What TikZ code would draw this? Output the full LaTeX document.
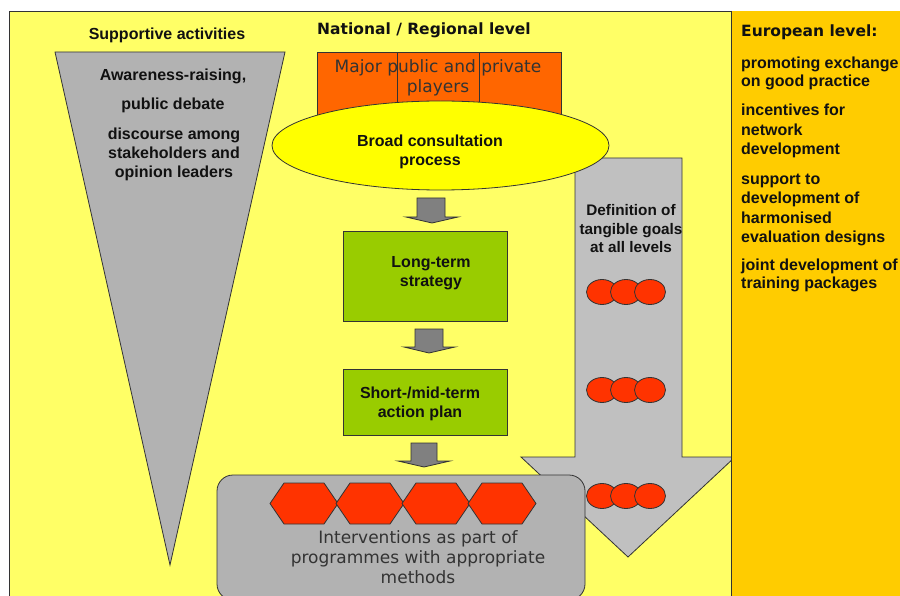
\documentclass[tikz,border=0pt]{standalone}
\usepackage{fontspec}
\setmainfont{Liberation Sans}
\newfontfamily\dvfont{DejaVu Sans}
\usetikzlibrary{shapes.geometric}
\definecolor{bgyellow}{HTML}{FFFF66}
\definecolor{eupanel}{HTML}{FFCC00}
\definecolor{trigray}{HTML}{B2B2B2}
\definecolor{bigarrow}{HTML}{C0C0C0}
\definecolor{smallarrow}{HTML}{808080}
\definecolor{playerorange}{HTML}{FF6600}
\definecolor{consult}{HTML}{FFFF00}
\definecolor{stratgreen}{HTML}{99CC00}
\definecolor{goalred}{HTML}{FF3300}
\definecolor{edge}{HTML}{333333}
\definecolor{ink}{HTML}{111111}
\definecolor{ink2}{HTML}{333333}
\tikzset{
  outl/.style={draw=edge, line width=0.8pt},
  bt/.style={font=\bfseries\fontsize{16}{19}\selectfont, text=ink, inner sep=0pt, align=center},
  vt/.style={font=\dvfont\fontsize{17}{20}\selectfont, text=ink2, inner sep=0pt, align=center},
  headtxt/.style={font=\dvfont\bfseries\fontsize{15.5}{19}\selectfont, text=ink, inner sep=0pt},
  greenbox/.style={outl, fill=stratgreen, rectangle, inner sep=0pt, minimum width=164pt},
  playerbox/.style={outl, fill=playerorange, rectangle, inner sep=0pt, anchor=north west, minimum height=66pt},
  goal/.style={outl, fill=goalred, ellipse, inner sep=0pt, minimum width=31pt, minimum height=25pt},
  blockarrow/.style={outl, fill=smallarrow},
}
\begin{document}
\begin{tikzpicture}[x=1pt,y=-1pt]
\useasboundingbox (0,0) rectangle (900,596);
\clip (0,0) rectangle (900,596);
% backgrounds
\fill[white] (0,0) rectangle (900,596);
\fill[bgyellow] (9,11) rectangle (731,600);
\draw[draw=edge, line width=0.8pt] (836,11) -- (9,11) -- (9,600);
% supportive triangle
\draw[outl, fill=trigray] (55,52) -- (285,52) -- (170,565) -- cycle;
% big grey arrow
\draw[outl, fill=bigarrow] (575,158) -- (682,158) -- (682,457) -- (735,457) -- (628,557) -- (521,457) -- (575,457) -- cycle;
% players boxes
\node[playerbox, minimum width=80pt] (p1) at (317,52) {};
\node[playerbox, minimum width=82pt] (p2) at (397,52) {};
\node[playerbox, minimum width=82pt] (p3) at (479,52) {};
\node[vt] (players) at (438,78) {Major public and private\\players};
% consultation ellipse
\node[outl, fill=consult, ellipse, inner sep=0pt, minimum width=337pt, minimum height=89pt] (cons) at (440.5,145.5) {};
\node[bt] (constext) at (430,152) {Broad consultation\\process};
% small block arrows
\draw[blockarrow] (417,198) -- (445,198) -- (445,217) -- (458,217) -- (432,223) -- (406,217) -- (417,217) -- cycle;
\draw[blockarrow] (415,329) -- (443,329) -- (443,347) -- (455,347) -- (429,353) -- (404,347) -- (415,347) -- cycle;
\draw[blockarrow] (411,443) -- (437,443) -- (437,461) -- (450,461) -- (424,467) -- (398,461) -- (411,461) -- cycle;
% green boxes
\node[greenbox, minimum height=90pt] (lt) at (425,276) {};
\node[bt] (lttext) at (431,273.5) {Long-term\\strategy};
\node[greenbox, minimum height=66pt] (sm) at (425,402) {};
\node[bt] (smtext) at (420,403.5) {Short-/mid-term\\action plan};
% interventions box
\draw[outl, fill=trigray, rounded corners=16pt] (217,475) rectangle (585,600);
\foreach \c [count=\i] in {304,370,436,502} {
  \draw[outl, fill=goalred] (\c-34,503.5) -- (\c-20,483) -- (\c+20,483) -- (\c+34,503.5) -- (\c+20,524) -- (\c-20,524) -- cycle;
}
\node[vt] (interv) at (418,557) {Interventions as part of\\programmes with appropriate\\methods};
% goals on arrow
\node[bt, font=\bfseries\fontsize{15.3}{18.5}\selectfont] (goaltext) at (631,229) {Definition of\\tangible goals\\at all levels};
\foreach \y [count=\j] in {292,390,496} {
  \node[goal] (g\j a) at (602,\y) {};
  \node[goal] (g\j b) at (626,\y) {};
  \node[goal] (g\j c) at (650,\y) {};
}
% triangle texts
\node[bt, anchor=base] (suptitle) at (167,40) {Supportive activities};
\node[bt, anchor=base] (aw) at (173,81) {Awareness-raising,};
\node[bt, anchor=base] (pd) at (173,110) {public debate};
\node[bt] (disc) at (174,154) {discourse among\\stakeholders and\\opinion leaders};
\node[headtxt, anchor=base] (nat) at (424,35) {National / Regional level};
% European panel
\fill[eupanel] (731,11) rectangle (905,600);
\draw[draw=edge, line width=0.8pt] (731,11) -- (731,600);
\node[headtxt, anchor=base west] (eu) at (741,37) {European level:};
\node[bt, anchor=base west] (e1) at (741,69) {promoting exchange};
\node[bt, anchor=base west] (e2) at (741,87) {on good practice};
\node[bt, anchor=base west] (e3) at (741,116) {incentives for};
\node[bt, anchor=base west] (e4) at (741,136) {network};
\node[bt, anchor=base west] (e5) at (741,155) {development};
\node[bt, anchor=base west] (e6) at (741,185) {support to};
\node[bt, anchor=base west] (e7) at (741,204) {development of};
\node[bt, anchor=base west] (e8) at (741,224) {harmonised};
\node[bt, anchor=base west] (e9) at (741,243) {evaluation designs};
\node[bt, anchor=base west] (e10) at (741,271) {joint development of};
\node[bt, anchor=base west] (e11) at (741,289) {training packages};
\end{tikzpicture}
\end{document}
